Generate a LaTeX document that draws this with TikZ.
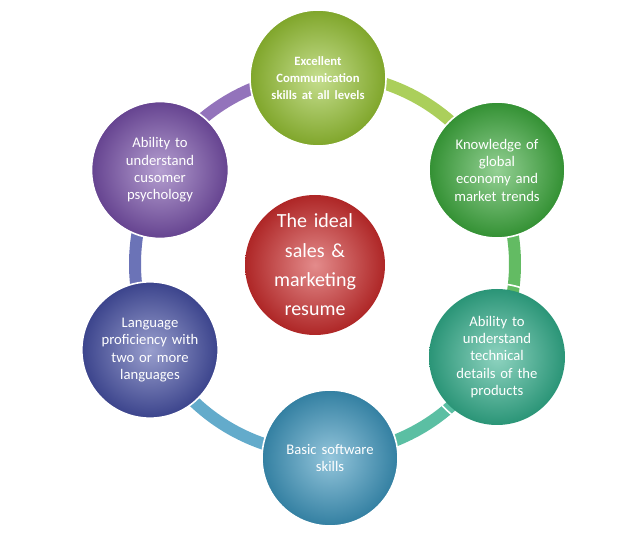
\documentclass[tikz,border=0pt]{standalone}
\usepackage{fontspec}
\usetikzlibrary{calc}
\setmainfont{Carlito}
\begin{document}
\begin{tikzpicture}[x=0.75pt,y=-0.75pt,
 bub/.style={circle,minimum size=102pt,draw=white,line width=1.2pt,text=white,align=center,font=\fontsize{11}{13}\selectfont,text width=80pt},
 ring/.style={line width=9pt}]
\useasboundingbox (0,0) rectangle (629,538);
\definecolor{cA}{RGB}{150,195,50}\definecolor{cB}{RGB}{60,170,60}\definecolor{cC}{RGB}{50,175,140}
\definecolor{cD}{RGB}{60,150,190}\definecolor{cE}{RGB}{70,80,165}\definecolor{cF}{RGB}{120,80,170}\definecolor{cG}{RGB}{205,45,45}
\coordinate (o) at (325,264);
\foreach \a/\c in {-90/cA,-30/cB,30/cC,90/cD,150/cE,210/cF}{
 \draw[ring,\c!80!white] ($(o)+({\a}:190)$) arc[start angle={\a},end angle={\a+60},radius=190];}
\foreach \n/\x/\y/\c/\t in {
 a/318/78/cA/{\textbf{\fontsize{9.5}{11}\selectfont Excellent}\\\textbf{\fontsize{9.5}{11}\selectfont Communication}\\\textbf{\fontsize{9.5}{11}\selectfont skills at all levels}},
 b/497/170/cB/{Knowledge of\\global\\economy and\\market trends},
 c/497/357/cC/{Ability to\\understand\\technical\\details of the\\products},
 d/330/458/cD/{Basic software\\skills},
 e/150/350/cE/{Language\\proficiency with\\two or more\\languages},
 f/160/170/cF/{Ability to\\understand\\cusomer\\psychology}}{
 \shade[inner color=\c!55!white,outer color=\c!85!black] (\x,\y) circle[radius=68];
 \node[bub] (\n) at (\x,\y) {\t};}
\shade[inner color=cG!55!white,outer color=cG!85!black] (315,265) circle[radius=70];
\node[bub,minimum size=105pt,font=\fontsize{15}{22}\selectfont] (m) at (315,265) {The ideal\\sales \&\\marketing\\resume};
\end{tikzpicture}
\end{document}
